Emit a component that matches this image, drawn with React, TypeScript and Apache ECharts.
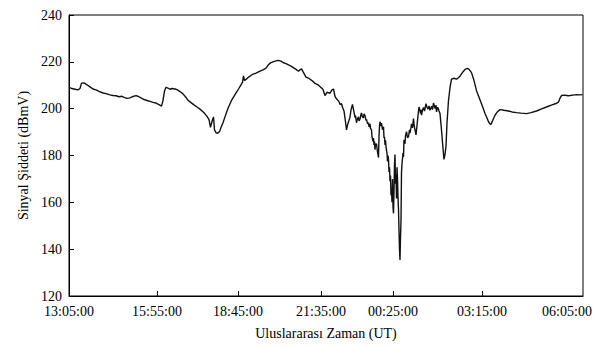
import React, { useEffect, useRef } from "react";
import * as echarts from "echarts";

// sample number along the recording (Excel-like category index) and signal level in dBmV
const sampleNo: number[] = [
  0, 6, 12, 18, 22, 25, 30, 36, 42, 48, 54, 60, 68, 74, 82, 88, 94, 100, 106, 110,
  116, 122, 128, 134, 138, 144, 150, 156, 162, 168, 174, 180, 185, 188, 191, 194, 198, 202, 206, 212,
  216, 222, 228, 234, 238, 244, 250, 256, 262, 268, 272, 276, 280, 283, 286, 289, 291, 294, 297, 301,
  304, 308, 312, 318, 325, 332, 339, 344, 347, 349, 351, 354, 360, 366, 374, 382, 388, 394, 398, 402,
  408, 414, 419, 424, 429, 434, 442, 448, 454, 459, 462, 465, 468, 474, 480, 486, 492, 498, 504, 508,
  512, 516, 522, 526, 529, 532, 535,
  540, 542, 545, 547, 550, 552, 555, 557, 559, 561, 562, 564, 567, 569, 570, 572, 573, 575, 577, 579,
  580, 582, 584, 585, 587, 589, 590, 592, 594, 595, 597, 599, 600, 602, 603, 605, 606, 608, 609, 610,
  611, 612, 613, 615, 617, 619, 620, 621, 622, 624, 625, 627, 629, 630, 631, 632, 633, 634, 635, 636,
  637, 638, 639, 640, 641, 642, 643, 644, 645, 646, 647, 648, 649, 650, 651, 652, 653, 654, 655, 656,
  657, 658, 659, 660, 661, 662, 663, 664, 665, 666, 668, 669, 670, 672, 673, 675, 677, 679, 681, 682,
  684, 685, 687, 689, 690, 691, 693, 694, 696, 697, 699, 700, 702, 703, 704, 705, 707, 709, 711, 714,
  716, 718, 720, 722, 724, 725, 727, 729, 731, 732, 734, 735, 737, 739, 740, 742,
  745, 748, 750, 752, 754, 756, 759, 762, 765, 770, 775, 779, 782, 786, 789, 793, 797, 801, 805, 810,
  815, 820, 825, 829, 832, 836, 839, 842, 844, 848, 852, 857, 862, 870, 879, 886, 895, 904, 915, 924,
  935, 944, 955, 966, 974, 979, 982, 985, 992, 998, 1002, 1008, 1015, 1022, 1027,
];

const signalDbmv: number[] = [
  209.1, 208.6, 208.3, 208.0, 208.6, 210.9, 211.0, 210.2, 209.3, 208.4, 208.0, 207.4, 206.7, 206.4, 205.9, 205.6, 205.5, 205.1, 205.3, 204.8,
  204.4, 204.6, 205.2, 205.6, 205.3, 204.6, 203.9, 203.5, 203.1, 202.7, 202.4, 201.7, 201.1, 203.5, 207.5, 209.1, 208.8, 208.3, 208.6, 208.4,
  208.1, 207.3, 206.3, 204.8, 203.6, 202.6, 201.6, 200.7, 199.8, 198.7, 197.8, 196.7, 195.3, 192.0, 194.5, 196.5, 190.9, 189.8, 189.5, 190.2,
  192.0, 194.0, 196.5, 200.2, 203.5, 206.0, 208.4, 210.2, 211.3, 214.0, 212.0, 212.5, 213.6, 214.5, 215.2, 216.0, 216.6, 217.3, 218.5, 219.4,
  220.0, 220.4, 220.6, 220.3, 219.6, 219.2, 218.4, 217.6, 216.8, 216.0, 216.6, 217.0, 215.8, 213.5, 212.9, 212.0, 210.8, 210.2, 209.0, 208.2,
  205.6, 207.0, 206.6, 208.0, 208.4, 205.2, 204.2,
  203.0, 201.8, 202.1, 200.6, 199.0, 196.0, 190.9, 193.0, 194.4, 195.6, 196.5, 199.5, 201.8, 199.6, 198.5, 196.2, 197.0, 194.0, 195.8, 196.5,
  194.8, 195.5, 197.6, 198.2, 196.4, 196.0, 197.8, 197.0, 195.0, 195.4, 193.6, 194.0, 192.2, 193.5, 191.6, 190.9, 188.0, 186.0, 187.4, 184.5,
  186.0, 182.5, 184.8, 185.0, 181.5, 179.1, 188.0, 192.5, 194.4, 192.6, 193.8, 191.0, 192.3, 187.5, 188.0, 184.5, 186.5, 184.0, 182.2, 181.0,
  177.5, 180.0, 178.3, 173.0, 175.0, 169.0, 171.4, 163.0, 165.0, 160.0, 170.0, 158.0, 155.3, 165.0, 176.0, 180.4, 168.0, 172.0, 161.6, 175.0,
  170.0, 162.0, 157.0, 148.0, 140.0, 135.4, 145.0, 152.0, 172.8, 176.5, 181.0, 179.5, 186.7, 185.0, 188.5, 190.2, 187.6, 188.0, 191.0, 189.5,
  192.0, 193.5, 191.8, 195.8, 193.5, 192.0, 190.0, 188.8, 192.8, 195.0, 199.0, 200.7, 199.2, 198.0, 199.5, 197.2, 199.4, 200.5, 199.0, 202.1,
  200.6, 199.8, 201.2, 199.3, 200.4, 201.0, 199.6, 202.4, 201.0, 200.0, 201.5, 198.6, 200.6, 199.8, 199.0, 197.9,
  190.9, 183.0, 178.3, 180.5, 184.0, 194.0, 203.5, 209.0, 212.6, 213.0, 212.6, 213.2, 213.9, 215.2, 216.0, 216.9, 217.2, 216.6, 215.4, 212.0,
  207.7, 204.9, 202.1, 199.8, 197.9, 196.0, 194.4, 193.5, 193.3, 195.3, 197.2, 198.7, 199.6, 199.3, 199.0, 198.6, 198.3, 198.1, 197.9, 198.3,
  199.0, 199.8, 200.7, 201.6, 202.2, 202.8, 204.5, 205.6, 205.8, 205.5, 205.6, 205.8, 206.0, 205.9, 206.0,
];

const tickLabels: string[] = ["13:05:00", "15:55:00", "18:45:00", "21:35:00", "00:25:00", "03:15:00", "06:05:00"];
const tickSamples: number[] = [0, 176, 338, 504, 648, 826, 996];
const lastSample = 1028;

const yTicks = { min: 120, max: 240, step: 20 };

const FONT = "'Liberation Serif', 'Times New Roman', serif";

export default function App() {
  const ref = useRef<HTMLDivElement>(null);
  useEffect(() => {
    if (!ref.current) return;
    const chart = echarts.init(ref.current, undefined, { renderer: "svg" });
    const data = sampleNo.map((s, i) => [s, signalDbmv[i]]);
    chart.setOption({
      animation: false,
      backgroundColor: "#fff",
      grid: {
        left: 61,
        right: 15,
        top: 1.5,
        bottom: 51,
        show: true,
        borderColor: "#000",
        borderWidth: 1,
      },
      xAxis: {
        type: "value",
        min: 0,
        max: lastSample,
        name: "Uluslararası Zaman (UT)",
        nameLocation: "middle",
        nameGap: 30,
        nameTextStyle: { fontFamily: FONT, fontSize: 14, color: "#000" },
        splitLine: { show: false },
        axisLine: { show: true, lineStyle: { color: "#000", width: 1 } },
        axisTick: {
          show: true,
          inside: true,
          length: 5,
          customValues: tickSamples.slice(1, 6),
          lineStyle: { color: "#000" },
        },
        axisLabel: {
          customValues: tickSamples,
          formatter: (v: number) => {
            const i = tickSamples.indexOf(v);
            return i >= 0 ? tickLabels[i] : "";
          },
          fontFamily: FONT,
          fontSize: 14,
          color: "#000",
          margin: 8,
          showMinLabel: true,
          showMaxLabel: true,
        },
      },
      yAxis: {
        type: "value",
        min: yTicks.min,
        max: yTicks.max,
        interval: yTicks.step,
        name: "Sinyal Şiddeti (dBmV)",
        nameLocation: "middle",
        nameGap: 38,
        nameTextStyle: { fontFamily: FONT, fontSize: 14, color: "#000" },
        splitLine: { show: false },
        axisLine: { show: true, lineStyle: { color: "#000", width: 1 } },
        axisTick: { show: true, inside: true, length: 5, lineStyle: { color: "#000" } },
        axisLabel: { fontFamily: FONT, fontSize: 14, color: "#000", margin: 7 },
      },
      series: [
        {
          type: "line",
          data,
          showSymbol: false,
          symbol: "none",
          smooth: false,
          lineStyle: { color: "#111", width: 1.4 },
        },
      ],
    });
    return () => chart.dispose();
  }, []);
  return <div ref={ref} style={{ width: 590, height: 339 }} />;
}
